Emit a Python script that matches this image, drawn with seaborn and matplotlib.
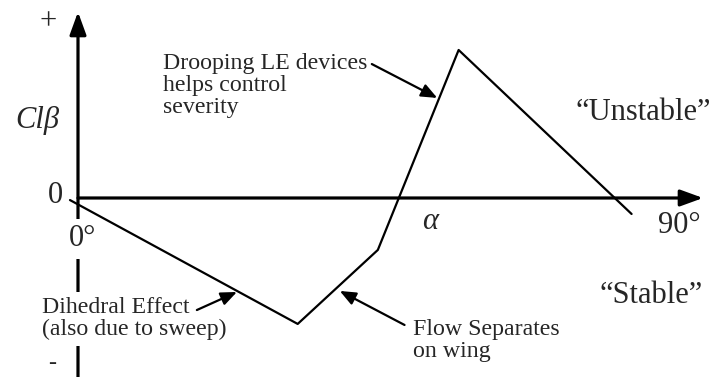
import numpy as np
import pandas as pd
import matplotlib
matplotlib.use("Agg")
import matplotlib.pyplot as plt
import seaborn as sns

# Cl-beta vs angle of attack (schematic)
alpha = [-1.2, 32.9, 44.9, 57.0, 82.9]
cl_beta = [-0.014, -0.851, -0.351, 1.0, -0.108]

df = pd.DataFrame({"alpha": alpha, "cl_beta": cl_beta})

sns.set_style("white")
plt.rcParams["font.family"] = ["Liberation Serif", "DejaVu Serif"]

fig = plt.figure(figsize=(7.18, 3.77), dpi=100)
ax = fig.add_axes([0, 0, 1, 1])
ax.set_xlim(-11.68, 95.84)
ax.set_ylim(-1.2095, 1.3378)
ax.axis("off")

big = 22
small = 17.2

# axes with arrows
axis_arrow = dict(arrowstyle="-|>,head_length=0.55,head_width=0.2", lw=2.3,
                  color="black", shrinkA=0, shrinkB=0, mutation_scale=25)
ax.annotate("", xy=(0, 1.257), xytext=(0, -1.2095), arrowprops=axis_arrow, zorder=1)
ax.annotate("", xy=(93.6, 0), xytext=(0, 0), arrowprops=axis_arrow, zorder=1)

sns.lineplot(data=df, x="alpha", y="cl_beta", sort=False, color="black",
             lw=1.6, ax=ax, zorder=4)

white = dict(facecolor="white", edgecolor="none", pad=4)
ax.text(-4.49, 1.189, "+", fontsize=big, ha="center", va="center")
ax.text(-9.4, 0.473, "Clβ", fontsize=big, style="italic", ha="left", va="baseline")
ax.text(-3.4, 0.02, "0", fontsize=big, ha="center", va="center")
ax.text(0.75, -0.277, "0°", fontsize=big, ha="center", va="center", bbox=white, zorder=3)
ax.text(-3.9, -1.12, "-", fontsize=small, ha="center", va="center")
ax.text(52.7, -0.16, "α", fontsize=big, style="italic", ha="center", va="center")
ax.text(90.0, -0.236, "90°", fontsize=big, ha="center", va="baseline")
ax.text(84.7, 0.527, "“Unstable”", fontsize=big, ha="center", va="baseline")
ax.text(85.9, -0.709, "“Stable”", fontsize=big, ha="center", va="baseline")

small_arrow = dict(arrowstyle="-|>,head_length=0.6,head_width=0.25", lw=1.6,
                   color="black", shrinkA=0, shrinkB=0, mutation_scale=16)

# multi-line texts: y is the baseline of the last line
ax.text(12.7, 0.574, "Drooping LE devices\nhelps control\nseverity", fontsize=small,
        ha="left", va="baseline", linespacing=1.05)
ax.annotate("", xy=(53.8, 0.676), xytext=(44.0, 0.905), arrowprops=small_arrow)

ax.text(-5.4, -0.926, "Dihedral Effect\n(also due to sweep)", fontsize=small,
        ha="left", va="baseline", linespacing=1.05, bbox=white, zorder=3)
ax.annotate("", xy=(23.8, -0.635), xytext=(17.8, -0.757), arrowprops=small_arrow)

ax.text(50.2, -1.074, "Flow Separates\non wing", fontsize=small,
        ha="left", va="baseline", linespacing=1.05)
ax.annotate("", xy=(39.2, -0.628), xytext=(48.9, -0.858), arrowprops=small_arrow)

fig.savefig("out.png", dpi=100)
